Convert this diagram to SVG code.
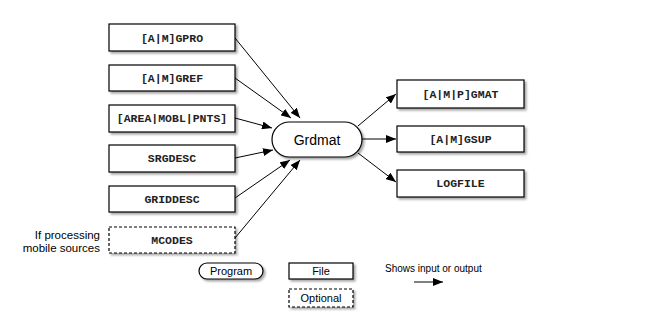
<svg xmlns="http://www.w3.org/2000/svg" width="668" height="326" viewBox="0 0 668 326">
<style>
.box{fill:#fff;stroke:#000;stroke-width:1.2;filter:url(#sh)}
.opt{stroke-dasharray:3,2}
.ft{font-family:"Liberation Mono",monospace;font-weight:bold;font-size:11.5px;fill:#222;text-anchor:middle}
.lt{font-family:"Liberation Sans",Arial,sans-serif;font-size:11px;fill:#000;text-anchor:middle}
.ln{stroke:#000;stroke-width:1;fill:none;marker-end:url(#ah)}
</style>
<defs>
<filter id="sh" x="-10%" y="-20%" width="130%" height="160%">
<feDropShadow dx="2" dy="2" stdDeviation="1.2" flood-color="#000" flood-opacity="0.35"/>
</filter>
<marker id="ah" viewBox="0 0 10 8" refX="10" refY="4" markerWidth="10" markerHeight="8" markerUnits="userSpaceOnUse" orient="auto">
<path d="M0,0 L10,4 L0,8 z" fill="#000"/>
</marker>
</defs>
<g id="connectors">
<line class="ln" x1="235" y1="38" x2="300" y2="118"/>
<line class="ln" x1="235" y1="78" x2="291" y2="118"/>
<line class="ln" x1="235" y1="118" x2="272" y2="128"/>
<line class="ln" x1="235" y1="158" x2="273" y2="150"/>
<line class="ln" x1="235" y1="198" x2="290" y2="160"/>
<line class="ln" x1="235" y1="238" x2="300" y2="160"/>
<line class="ln" x1="358" y1="126" x2="396" y2="94"/>
<line class="ln" x1="362" y1="139" x2="396" y2="139"/>
<line class="ln" x1="358" y1="153" x2="396" y2="182"/>
</g>
<g id="gpro"><rect class="box" x="109" y="24" width="126" height="27"/><text class="ft" x="172" y="41.5">[A|M]GPRO</text></g>
<g id="gref"><rect class="box" x="109" y="65" width="126" height="26"/><text class="ft" x="172" y="82">[A|M]GREF</text></g>
<g id="pnts"><rect class="box" x="109" y="105" width="126" height="27"/><text class="ft" x="172" y="122">[AREA|MOBL|PNTS]</text></g>
<g id="srgdesc"><rect class="box" x="109" y="145" width="126" height="27"/><text class="ft" x="172" y="162">SRGDESC</text></g>
<g id="griddesc"><rect class="box" x="109" y="186" width="126" height="26"/><text class="ft" x="172" y="203">GRIDDESC</text></g>
<g id="mcodes"><rect class="box opt" x="109" y="227" width="126" height="26"/><text class="ft" x="172" y="244">MCODES</text></g>
<g id="note"><text class="lt" style="text-anchor:end;font-size:11.5px" x="100" y="239">If processing</text><text class="lt" style="text-anchor:end;font-size:11.5px" x="100" y="252">mobile sources</text></g>
<g id="grdmat"><rect class="box" x="272" y="122" width="90" height="35" rx="17.5"/><text class="lt" style="font-size:14px" x="317" y="144.5">Grdmat</text></g>
<g id="gmat"><rect class="box" x="397" y="80" width="127" height="28"/><text class="ft" x="460.5" y="98">[A|M|P]GMAT</text></g>
<g id="gsup"><rect class="box" x="397" y="126" width="127" height="26"/><text class="ft" x="460.5" y="143">[A|M]GSUP</text></g>
<g id="logfile"><rect class="box" x="397" y="170" width="127" height="27"/><text class="ft" x="460.5" y="187">LOGFILE</text></g>
<g id="legend-program"><rect class="box" x="199" y="263" width="64" height="16" rx="8"/><text class="lt" x="231" y="275">Program</text></g>
<g id="legend-file"><rect class="box" x="289" y="263" width="64" height="16"/><text class="lt" x="321" y="275">File</text></g>
<g id="legend-optional"><rect class="box opt" x="289" y="289" width="64" height="18"/><text class="lt" x="321" y="302">Optional</text></g>
<g id="legend-arrow"><text class="lt" style="font-size:10px;text-anchor:start" x="385" y="272">Shows input or output</text><line class="ln" x1="414" y1="282" x2="443" y2="282"/></g>
</svg>
